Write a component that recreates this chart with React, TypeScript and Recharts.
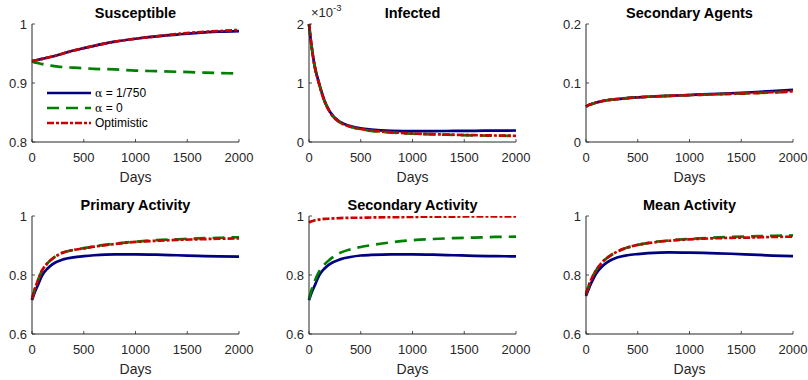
import { Line, LineChart, XAxis, YAxis } from "recharts";

const AXIS = "#262626";
const BLUE = "#000080";
const GREEN = "#008000";
const RED = "#cc0000";
const DASH = "12 7";
const DASH_DOT = "7 2 3 2";

const DAYS = [0, 25, 50, 100, 150, 200, 300, 400, 500, 600, 800, 1000, 1200, 1400, 1600, 1800, 2000];
const X_TICKS = [0, 500, 1000, 1500, 2000];

// alpha = 1/750, alpha = 0, optimistic
const SUSCEPTIBLE_A750 = [0.937, 0.938, 0.939, 0.941, 0.943, 0.945, 0.95, 0.955, 0.959, 0.963, 0.97, 0.975, 0.979, 0.982, 0.985, 0.987, 0.988];
const SUSCEPTIBLE_A0 = [0.937, 0.935, 0.934, 0.932, 0.93, 0.929, 0.927, 0.926, 0.925, 0.924, 0.923, 0.921, 0.92, 0.919, 0.918, 0.917, 0.916];
const SUSCEPTIBLE_OPT = [0.937, 0.938, 0.939, 0.941, 0.943, 0.945, 0.95, 0.955, 0.959, 0.963, 0.97, 0.975, 0.979, 0.983, 0.986, 0.988, 0.99];

// infected, in units of 1e-3
const INFECTED_A750 = [2.0, 1.62, 1.33, 0.98, 0.7, 0.52, 0.34, 0.27, 0.23, 0.21, 0.19, 0.185, 0.185, 0.188, 0.19, 0.193, 0.195];
const INFECTED_A0 = [2.0, 1.62, 1.33, 0.97, 0.69, 0.51, 0.33, 0.26, 0.215, 0.19, 0.16, 0.14, 0.128, 0.12, 0.112, 0.107, 0.102];
const INFECTED_OPT = [2.0, 1.62, 1.33, 0.97, 0.69, 0.51, 0.33, 0.26, 0.22, 0.195, 0.165, 0.145, 0.132, 0.123, 0.115, 0.11, 0.105];

const AGENTS_A750 = [0.06, 0.0625, 0.064, 0.067, 0.069, 0.0708, 0.0728, 0.0745, 0.0757, 0.0767, 0.0783, 0.0797, 0.0811, 0.0826, 0.0843, 0.0862, 0.0885];
const AGENTS_A0 = [0.06, 0.0625, 0.064, 0.067, 0.069, 0.0708, 0.0728, 0.0745, 0.0757, 0.0767, 0.0781, 0.0794, 0.0805, 0.0815, 0.0827, 0.084, 0.0855];
const AGENTS_OPT = [0.06, 0.0625, 0.064, 0.067, 0.069, 0.0708, 0.0728, 0.0745, 0.0757, 0.0767, 0.0782, 0.0795, 0.0806, 0.0817, 0.0829, 0.0843, 0.0858];

const PRIMARY_A750 = [0.715, 0.74, 0.76, 0.8, 0.822, 0.837, 0.853, 0.86, 0.864, 0.867, 0.87, 0.87, 0.869, 0.867, 0.865, 0.863, 0.862];
const PRIMARY_A0 = [0.718, 0.75, 0.775, 0.817, 0.84, 0.856, 0.876, 0.885, 0.891, 0.897, 0.906, 0.913, 0.918, 0.921, 0.924, 0.926, 0.928];
const PRIMARY_OPT = [0.718, 0.75, 0.775, 0.817, 0.84, 0.856, 0.876, 0.885, 0.89, 0.896, 0.905, 0.912, 0.916, 0.919, 0.921, 0.923, 0.924];

const SECONDARY_A750 = [0.715, 0.74, 0.76, 0.8, 0.822, 0.837, 0.853, 0.861, 0.866, 0.868, 0.87, 0.87, 0.869, 0.867, 0.865, 0.864, 0.863];
const SECONDARY_A0 = [0.718, 0.75, 0.775, 0.813, 0.836, 0.852, 0.875, 0.887, 0.895, 0.901, 0.911, 0.918, 0.922, 0.925, 0.927, 0.929, 0.93];
const SECONDARY_OPT = [0.978, 0.982, 0.985, 0.988, 0.99, 0.991, 0.993, 0.994, 0.994, 0.995, 0.996, 0.997, 0.998, 0.998, 0.999, 0.999, 0.999];

const MEAN_A750 = [0.729, 0.752, 0.772, 0.806, 0.827, 0.842, 0.859, 0.867, 0.871, 0.874, 0.877, 0.876, 0.874, 0.872, 0.869, 0.866, 0.864];
const MEAN_A0 = [0.735, 0.762, 0.785, 0.817, 0.841, 0.857, 0.879, 0.893, 0.902, 0.909, 0.917, 0.922, 0.926, 0.929, 0.931, 0.933, 0.934];
const MEAN_OPT = [0.735, 0.762, 0.785, 0.817, 0.841, 0.857, 0.879, 0.893, 0.902, 0.908, 0.916, 0.921, 0.924, 0.926, 0.927, 0.929, 0.93];

const LEGEND = ["1/750", "0", "Optimistic"];

const PLOT_W = 207;
const PAD_L = 40;
const PAD_T = 24;

type Panel = {
  title: string;
  left: number;
  top: number;
  domain: [number, number];
  ticks: number[];
  a750: number[];
  a0: number[];
  opt: number[];
  exponent?: boolean;
};

const PANELS: Panel[] = [
  { title: "Susceptible", left: 32, top: 24, domain: [0.8, 1], ticks: [0.8, 0.9, 1], a750: SUSCEPTIBLE_A750, a0: SUSCEPTIBLE_A0, opt: SUSCEPTIBLE_OPT },
  { title: "Infected", left: 309, top: 24, domain: [0, 2], ticks: [0, 1, 2], a750: INFECTED_A750, a0: INFECTED_A0, opt: INFECTED_OPT, exponent: true },
  { title: "Secondary Agents", left: 586, top: 24, domain: [0, 0.2], ticks: [0, 0.1, 0.2], a750: AGENTS_A750, a0: AGENTS_A0, opt: AGENTS_OPT },
  { title: "Primary Activity", left: 32, top: 216, domain: [0.6, 1], ticks: [0.6, 0.8, 1], a750: PRIMARY_A750, a0: PRIMARY_A0, opt: PRIMARY_OPT },
  { title: "Secondary Activity", left: 309, top: 216, domain: [0.6, 1], ticks: [0.6, 0.8, 1], a750: SECONDARY_A750, a0: SECONDARY_A0, opt: SECONDARY_OPT },
  { title: "Mean Activity", left: 586, top: 216, domain: [0.6, 1], ticks: [0.6, 0.8, 1], a750: MEAN_A750, a0: MEAN_A0, opt: MEAN_OPT },
];

// inward tick marks, matlab style
const XTick = ({ x, y, payload }: any) => (
  <g>
    <line x1={x} x2={x} y1={y} y2={y - 3} stroke={AXIS} strokeWidth={0.8} />
    <text x={x} y={y + 20} textAnchor="middle" fill={AXIS} fontSize={13}>
      {payload.value}
    </text>
  </g>
);

const YTick = ({ x, y, payload }: any) => (
  <g>
    <line x1={x} x2={x + 3} y1={y} y2={y} stroke={AXIS} strokeWidth={0.8} />
    <text x={x - 5} y={y} dy="0.36em" textAnchor="end" fill={AXIS} fontSize={13}>
      {String(payload.value)}
    </text>
  </g>
);

function PanelChart({ p }: { p: Panel }) {
  const data = DAYS.map((day, i) => ({ day, a750: p.a750[i], a0: p.a0[i], opt: p.opt[i] }));
  return (
    <div style={{ position: "absolute", left: p.left - PAD_L, top: p.top - PAD_T, width: 270, height: 200 }}>
      <div
        style={{
          position: "absolute",
          left: PAD_L,
          top: 5.5,
          width: PLOT_W,
          textAlign: "center",
          fontWeight: "bold",
          fontSize: 14.5,
          lineHeight: "15px",
          color: "#000",
          whiteSpace: "nowrap",
        }}
      >
        {p.title}
      </div>
      {p.exponent && (
        <div style={{ position: "absolute", left: PAD_L + 2, top: 6, fontSize: 13, color: AXIS, whiteSpace: "nowrap", lineHeight: "14px" }}>
          ×10<span style={{ fontSize: 9.5, position: "relative", top: -6 }}>-3</span>
        </div>
      )}
      <LineChart width={270} height={200} data={data} margin={{ top: PAD_T, right: 23, bottom: 28, left: 10 }}>
        <XAxis
          dataKey="day"
          type="number"
          domain={[0, 2000]}
          ticks={X_TICKS}
          interval={0}
          tickSize={0}
          tickMargin={0}
          tickLine={false}
          tick={<XTick />}
          stroke={AXIS}
          height={30}
          label={({ viewBox }: any) => (
            <text x={viewBox.x + viewBox.width / 2} y={viewBox.y + 40} textAnchor="middle" fill={AXIS} fontSize={14}>
              Days
            </text>
          )}
        />
        <YAxis
          type="number"
          domain={p.domain}
          ticks={p.ticks}
          interval={0}
          allowDataOverflow
          tickSize={0}
          tickMargin={0}
          tickLine={false}
          tick={<YTick />}
          stroke={AXIS}
          width={30}
        />
        <Line dataKey="a750" type="monotone" stroke={BLUE} strokeWidth={2.7} dot={false} isAnimationActive={false} />
        <Line dataKey="a0" type="monotone" stroke={GREEN} strokeWidth={2.7} strokeDasharray={DASH} dot={false} isAnimationActive={false} />
        <Line dataKey="opt" type="monotone" stroke={RED} strokeWidth={2.7} strokeDasharray={DASH_DOT} dot={false} isAnimationActive={false} />
      </LineChart>
    </div>
  );
}

function Legend() {
  const rows = [
    { color: BLUE, dash: undefined, label: LEGEND[0], alpha: true },
    { color: GREEN, dash: DASH, label: LEGEND[1], alpha: true },
    { color: RED, dash: DASH_DOT, label: LEGEND[2], alpha: false },
  ];
  return (
    <svg style={{ position: "absolute", left: 40, top: 83 }} width={120} height={50}>
      {rows.map((r, i) => (
        <g key={i}>
          <line x1={7} x2={51} y1={10 + i * 15} y2={10 + i * 15} stroke={r.color} strokeWidth={2.7} strokeDasharray={r.dash} />
          <text x={55} y={10 + i * 15} dy="0.36em" fontSize={12} fill="#000">
            {r.alpha ? (
              <>
                <tspan fontFamily="DejaVu Serif" fontSize={11}>α</tspan>
                {" = " + r.label}
              </>
            ) : (
              r.label
            )}
          </text>
        </g>
      ))}
    </svg>
  );
}

export default function App() {
  return (
    <div
      style={{
        position: "absolute",
        left: 0,
        top: 0,
        width: 808,
        height: 380,
        background: "#fff",
        fontFamily: "'Liberation Sans', Arial, sans-serif",
      }}
    >
      {PANELS.map((p) => (
        <PanelChart key={p.title} p={p} />
      ))}
      <Legend />
    </div>
  );
}
